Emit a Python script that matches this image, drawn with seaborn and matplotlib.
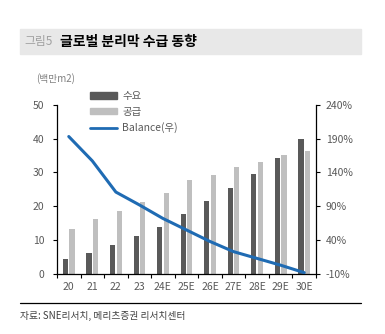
import numpy as np
import pandas as pd
import matplotlib
matplotlib.use("Agg")
import matplotlib.pyplot as plt
from matplotlib.patches import Rectangle
from matplotlib.lines import Line2D
import seaborn as sns

categories = ["20", "21", "22", "23", "24E", "25E", "26E", "27E", "28E", "29E", "30E"]
demand = [4.3, 6.3, 8.7, 11.2, 13.8, 17.6, 21.6, 25.4, 29.6, 34.2, 40.0]
supply = [13.2, 16.3, 18.6, 21.2, 23.8, 27.8, 29.2, 31.6, 33.2, 35.1, 36.3]
balance = [193, 157, 111, 92, 72, 55, 38, 23, 13, 3, -8]
left_ticks = [0, 10, 20, 30, 40, 50]
right_ticks = [-10, 40, 90, 140, 190, 240]

sns.set_theme(style="white")
plt.rcParams['font.family'] = ['Noto Sans CJK KR', 'DejaVu Sans']

DARK = "#595959"
LIGHT = "#bfbfbf"
BLUE = "#1f6bb3"
TXT = "#595959"

fig = plt.figure(figsize=(3.85, 3.34), dpi=100)
ax = fig.add_axes([57/385, 1-274/334, (316-57)/385, (274-104.7)/334])

df = pd.DataFrame({
    "cat": categories * 2,
    "val": demand + supply,
    "kind": ["수요"] * len(categories) + ["공급"] * len(categories),
})
sns.barplot(data=df, x="cat", y="val", hue="kind", order=categories,
            hue_order=["수요", "공급"], palette=[DARK, LIGHT],
            width=0.56, gap=0.22, ax=ax, legend=False, saturation=1,
            linewidth=0, edgecolor="none")

ax2 = ax.twinx()
sns.pointplot(x=categories, y=balance, order=categories, ax=ax2, color=BLUE,
              markers="", linewidth=2.2)

for a in (ax, ax2):
    a.set_xlim(-0.5, len(categories) - 0.5)
    a.set_xlabel("")
    a.set_ylabel("")
ax.set_ylim(0, 50)
ax2.set_ylim(-10, 240)
ax.set_yticks(left_ticks)
ax2.set_yticks(right_ticks)
ax2.set_yticklabels([f"{v}%" for v in right_ticks])
ax.set_xticks(range(len(categories)))
ax.set_xticklabels(categories)
ax.set_xticks(np.arange(-0.5, len(categories), 1.0), minor=True)

for a in (ax, ax2):
    for s in a.spines.values():
        s.set_visible(False)
    a.grid(False)
ax.spines["left"].set_visible(True)
ax.spines["bottom"].set_visible(True)
ax2.spines["right"].set_visible(True)
for s in [ax.spines["left"], ax.spines["bottom"], ax2.spines["right"]]:
    s.set_color("black")
    s.set_linewidth(0.9)

ax.tick_params(axis="x", which="major", length=0, labelsize=7.5, colors=TXT, pad=6)
ax.tick_params(axis="x", which="minor", length=3, width=0.8, color="black", direction="out", bottom=True)
ax.tick_params(axis="y", length=3, width=0.8, color="black", labelsize=7.5, labelcolor=TXT, direction="out", left=True, pad=6)
ax2.tick_params(axis="y", length=3, width=0.8, color="black", labelsize=7.5, labelcolor=TXT, direction="out", right=True, pad=4)
ax2.tick_params(axis="x", length=0)

handles = [Rectangle((0, 0), 1, 1, color=DARK), Rectangle((0, 0), 1, 1, color=LIGHT),
           Line2D([0], [0], color=BLUE, lw=2)]
leg = fig.legend(handles, ["수요", "공급", "Balance(우)"], loc="upper left",
                 bbox_to_anchor=(90/385, 1-91/334), frameon=False, fontsize=7.5,
                 handlelength=2.6, handleheight=0.6, labelspacing=0.55, handletextpad=0.5,
                 borderaxespad=0, borderpad=0)
for t in leg.get_texts():
    t.set_color(TXT)

# title band
fig.patches.append(Rectangle((20/385, 1-54/334), (361-20)/385, 25/334,
                             transform=fig.transFigure, color="#e8e8e8", zorder=0))
fig.text(24/385, 1-42/334, "그림5", fontsize=8.5, color="#a0a0a0", va="center", ha="left")
fig.text(60/385, 1-42/334, "글로벌 분리막 수급 동향", fontsize=10, fontweight="bold",
         color="black", va="center", ha="left")
fig.text(36/385, 1-79/334, "(백만m2)", fontsize=7, color="#808080", va="center", ha="left")

fig.add_artist(Line2D([20/385, 361/385], [1-303/334, 1-303/334], transform=fig.transFigure,
                      color="black", lw=0.9))
fig.text(20/385, 1-316/334, "자료: SNE리서치, 메리츠증권 리서치센터", fontsize=7, color="#404040",
         va="center", ha="left")

fig.savefig("out.png", dpi=100)
